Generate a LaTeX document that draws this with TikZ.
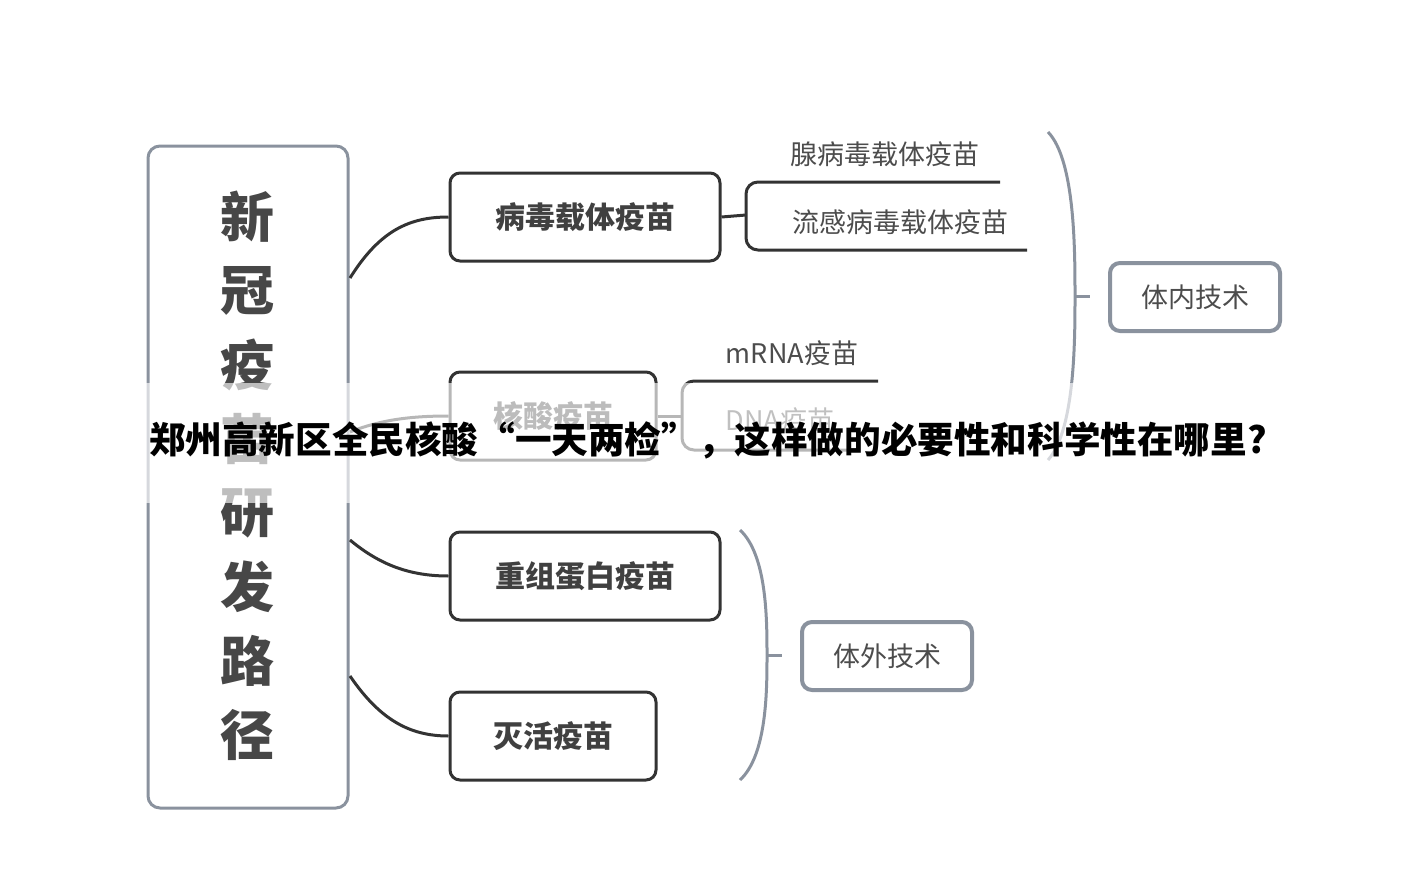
\documentclass[tikz,border=0pt]{standalone}
\usepackage{fontspec}
\setmainfont{Noto Sans CJK SC}
\newfontfamily\cjkb{Noto Sans CJK SC Black}[BoldFont={Noto Sans CJK SC Black}]
\definecolor{gline}{HTML}{8A929E}
\begin{document}
\begin{tikzpicture}[x=1pt,y=-1pt,
  dk/.style={draw=black!80,line width=3pt},
  gr/.style={draw=gline,line width=3pt},
  n2/.style={dk,rounded corners=10pt,minimum height=88pt,inner sep=0pt,font=\fontsize{30}{32}\selectfont\bfseries,text=black!75},
  tx/.style={font=\fontsize{27}{29}\selectfont,text=black!70},
  gb/.style={draw=gline,line width=4pt,rounded corners=10pt,minimum width=170pt,minimum height=68pt,font=\fontsize{27}{29}\selectfont,text=black!70}]
\useasboundingbox (0,0) rectangle (1414,886);
\node[gr,rounded corners=12pt,minimum width=200pt,minimum height=662pt,inner sep=0pt] (m) at (248,477) {};
\foreach \c [count=\i from 0] in {新,冠,疫,苗,研,发,路,径}
  \node[font=\fontsize{54}{56}\selectfont\bfseries,text=black!72] (m\i) at (247,217+74*\i) {\c};
\node[n2,minimum width=270pt] (a) at (585,217) {病毒载体疫苗};
\node[n2,minimum width=206pt] (b) at (553,416) {核酸疫苗};
\node[n2,minimum width=270pt] (c) at (585,576) {重组蛋白疫苗};
\node[n2,minimum width=206pt] (d) at (553,736) {灭活疫苗};
\coordinate (p1) at (350,278); \coordinate (p2) at (350,432);
\coordinate (p3) at (350,540); \coordinate (p4) at (350,676);
\draw[dk] (p1) .. controls (380,230) and (410,217) .. (a.west);
\draw[dk] (p2) .. controls (380,420) and (410,416) .. (b.west);
\draw[dk] (p3) .. controls (380,565) and (410,576) .. (c.west);
\draw[dk] (p4) .. controls (380,720) and (410,736) .. (d.west);
\coordinate (a1) at (746,215);
\draw[dk] (a.east) -- (a1);
\draw[dk,rounded corners=12pt] (1000,182) -- (746,182) -- (746,250) -- (1027,250);
\node[tx] (a2) at (885,154) {腺病毒载体疫苗};
\node[tx] (a3) at (900,222) {流感病毒载体疫苗};
\coordinate (b1) at (682,416);
\draw[dk] (b.east) -- (b1);
\draw[dk,rounded corners=12pt] (878,381) -- (682,381) -- (682,450) -- (850,450);
\node[tx] (b2) at (792,353) {mRNA疫苗};
\node[tx] (b3) at (780,420) {DNA疫苗};
\node[gb] (t1) at (1195,297) {体内技术};
\node[gb] (t2) at (887,656) {体外技术};
\coordinate (u1) at (1048,132); \coordinate (u2) at (1048,460); \coordinate (um) at (1075,296);
\draw[gr] (u1) .. controls (1075,160) and (1075,250) .. (um) .. controls (1075,340) and (1075,430) .. (u2);
\draw[gr] (um) -- (1090,296);
\coordinate (v1) at (740,530); \coordinate (v2) at (740,780); \coordinate (vm) at (767,655);
\draw[gr] (v1) .. controls (767,555) and (767,620) .. (vm) .. controls (767,690) and (767,755) .. (v2);
\draw[gr] (vm) -- (782,655);
\fill[white,opacity=0.65] (145,383) rectangle (1075,503);
\node[font=\cjkb\fontsize{36.6}{38}\selectfont,text=black,inner sep=0pt] (title) at (708,440) {郑州高新区全民核酸“一天两检”，这样做的必要性和科学性在哪里?};
\end{tikzpicture}
\end{document}
